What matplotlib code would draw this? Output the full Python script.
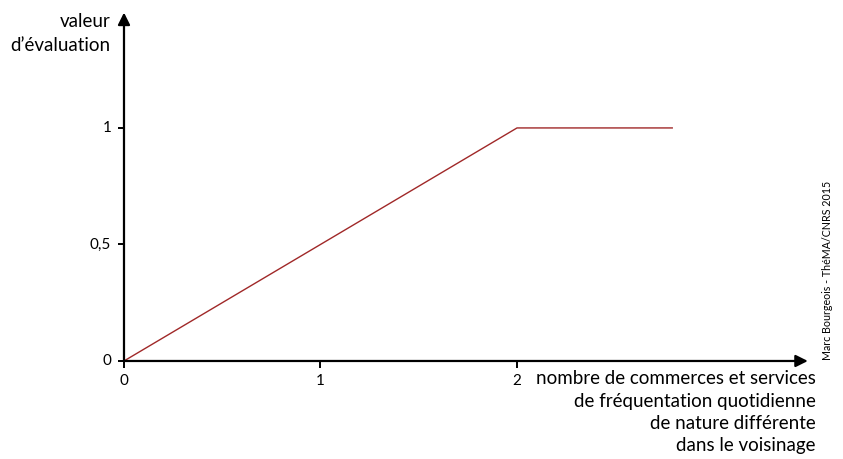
import matplotlib
matplotlib.use("Agg")
import matplotlib.pyplot as plt

# Data
curve_x = [0, 2, 2.79]
curve_y = [0, 1, 1]
xticks = [0, 1, 2]
xtick_labels = ["0", "1", "2"]
yticks = [0, 0.5, 1]
ytick_labels = ["0", "0,5", "1"]
ylabel_text = "valeur\nd\u2019\u00e9valuation"
xlabel_text = ("nombre de commerces et services\nde fr\u00e9quentation quotidienne\n"
               "de nature diff\u00e9rente\ndans le voisinage")
credit = "Marc Bourgeois - Th\u00e9MA/CNRS 2015"

plt.rcParams['font.family'] = ['Lato', 'DejaVu Sans']

fig = plt.figure(figsize=(8.43, 4.59), dpi=100)
ax = fig.add_axes([0, 0, 1, 1])
ax.set_xlim(-0.631, 3.659)
ax.set_ylim(-0.4206, 1.549)
ax.axis('off')

xmax_axis = 3.48
ymax_axis = 1.495

# axes with arrows
ax.annotate('', xy=(xmax_axis, 0), xytext=(0, 0),
            arrowprops=dict(arrowstyle='-|>', color='black', lw=1.6,
                            mutation_scale=18, shrinkA=0, shrinkB=0))
ax.annotate('', xy=(0, ymax_axis), xytext=(0, 0),
            arrowprops=dict(arrowstyle='-|>', color='black', lw=1.6,
                            mutation_scale=18, shrinkA=0, shrinkB=0))

# ticks
for xv, lab in zip(xticks, xtick_labels):
    ax.plot([xv, xv], [0, -0.03], color='black', lw=1.4, solid_capstyle='butt')
    ax.text(xv, -0.055, lab, ha='center', va='top', fontsize=11)
for yv, lab in zip(yticks, ytick_labels):
    ax.plot([0, -0.03], [yv, yv], color='black', lw=1.4, solid_capstyle='butt')
    ax.text(-0.065, yv, lab, ha='right', va='center', fontsize=11)

ax.plot(curve_x, curve_y, color='#a02828', lw=1.0)

ax.text(-0.07, 1.405, ylabel_text, ha='right', va='center', fontsize=13.5,
        linespacing=1.5)
ax.text(3.52, -0.04, xlabel_text, ha='right', va='top', fontsize=13.5,
        linespacing=1.38)
ax.text(3.58, 0.39, credit, ha='center', va='center', rotation=90, fontsize=7.7)

fig.savefig('out.png', dpi=100)
